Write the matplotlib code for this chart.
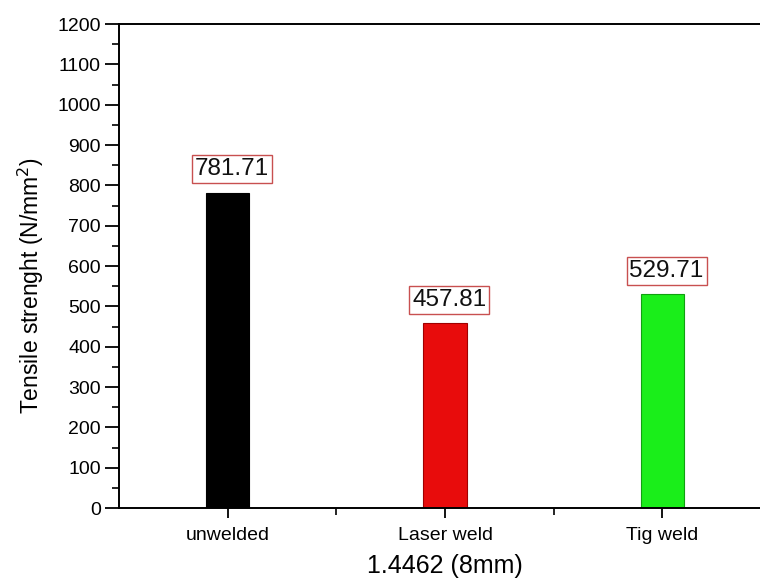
import matplotlib
matplotlib.use("Agg")
import matplotlib.pyplot as plt
from matplotlib.ticker import MultipleLocator, FixedLocator

categories = ["unwelded", "Laser weld", "Tig weld"]
values = [781.71, 457.81, 529.71]
value_labels = ["781.71", "457.81", "529.71"]
colors = ["#000000", "#e80c0c", "#1aee1a"]
edges = ["#000000", "#a00000", "#10a010"]

plt.rcParams['font.family'] = ['Liberation Sans', 'DejaVu Sans']

fig = plt.figure(figsize=(7.6, 5.8), dpi=100)
ax = fig.add_axes([0.1566, 0.1241, 0.858, 0.8345])

xs = [1, 2, 3]
ax.bar(xs, values, width=0.2, color=colors, edgecolor=edges, linewidth=0.8, zorder=2)

for x, v, lab in zip(xs, values, value_labels):
    ax.annotate(lab, (x, v), xytext=(3, 9), textcoords='offset points',
                ha='center', va='bottom', fontsize=17.5, color='#111111',
                bbox=dict(boxstyle='square,pad=0.12', fc='white', ec='#c85050', lw=1.0))

ax.set_xlim(0.5, 3.5)
ax.set_ylim(0, 1200)
ax.set_xticks(xs)
ax.set_xticklabels(categories, fontsize=14)
ax.xaxis.set_minor_locator(FixedLocator([1.5, 2.5]))
ax.yaxis.set_major_locator(MultipleLocator(100))
ax.yaxis.set_minor_locator(MultipleLocator(50))
ax.tick_params(axis='y', which='major', direction='out', length=10, width=1.3, labelsize=14, pad=3)
ax.tick_params(axis='y', which='minor', direction='out', length=5, width=1.2)
ax.tick_params(axis='x', which='major', direction='out', length=7, width=1.3, pad=7)
ax.tick_params(axis='x', which='minor', direction='out', length=5, width=1.2)
for s in ax.spines.values():
    s.set_linewidth(1.4)

ax.set_ylabel("Tensile strenght (N/mm$^2$)", fontsize=16.5)
ax.yaxis.set_label_coords(-0.112, 0.46)
ax.set_xlabel("1.4462 (8mm)", fontsize=18, labelpad=7)

fig.savefig("out.png", dpi=100)
